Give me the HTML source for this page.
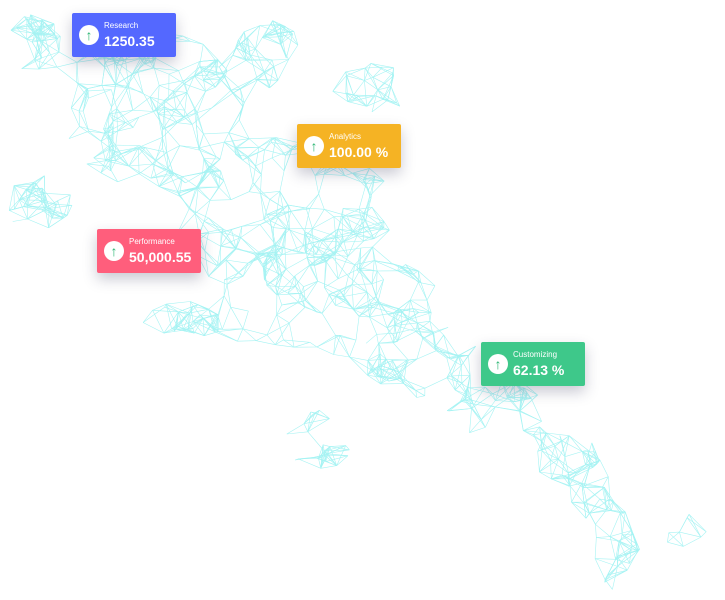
<!DOCTYPE html><html><head><style>
body{margin:0;width:725px;height:600px;background:#fff;overflow:hidden;position:relative;font-family:"Liberation Sans",sans-serif}
svg{position:absolute;left:0;top:0}
.c{position:absolute;width:104px;height:44px;color:#fff;box-shadow:0 6px 14px rgba(40,40,80,.25);border-radius:2px}
.c .i{position:absolute;left:7px;top:12px;width:20px;height:20px;border-radius:50%;background:#fff;color:#2bb673;font-size:14px;line-height:20px;text-align:center;font-weight:bold}
.c .l{position:absolute;left:32px;top:8px;font-size:8px}
.c .v{position:absolute;left:32px;top:20px;font-size:14px;font-weight:600}
</style></head><body>
<svg id="s" width="725" height="600"></svg>
<div class="c" style="left:72px;top:13px;background:#5468ff"><div class="i">↑</div><div class="l">Research</div><div class="v">1250.35</div></div>
<div class="c" style="left:297px;top:124px;background:#f5b324"><div class="i">↑</div><div class="l">Analytics</div><div class="v">100.00 %</div></div>
<div class="c" style="left:97px;top:229px;background:#ff5e7c"><div class="i">↑</div><div class="l">Performance</div><div class="v">50,000.55</div></div>
<div class="c" style="left:481px;top:342px;background:#3ec88a"><div class="i">↑</div><div class="l">Customizing</div><div class="v">62.13 %</div></div>
<script>
var E=[[150,110,95,80,160],[35,45,32,32,30],[40,205,35,30,30],[270,55,40,35,35],[370,90,40,30,25],[280,215,115,80,150],[320,300,125,60,120],[420,360,60,40,50],[500,410,55,32,35],[560,460,40,30,30],[600,500,30,25,20],[615,555,25,35,20],[320,440,35,35,25],[180,320,40,22,25],[680,530,30,20,8]];
var s=7;function r(){s=(s*16807)%2147483647;return s/2147483647}
var P=[];E.forEach(function(e){for(var k=0;k<e[4];k++){var a=r()*6.283,d=Math.sqrt(r());P.push([e[0]+Math.cos(a)*d*e[2],e[1]+Math.sin(a)*d*e[3]])}});
var h='';for(var i=0;i<P.length;i++){var n=0;for(var j=i+1;j<P.length;j++){var dx=P[i][0]-P[j][0],dy=P[i][1]-P[j][1];if(dx*dx+dy*dy<700&&n<4){n++;h+='<line x1="'+P[i][0].toFixed(1)+'" y1="'+P[i][1].toFixed(1)+'" x2="'+P[j][0].toFixed(1)+'" y2="'+P[j][1].toFixed(1)+'"/>'}}}
document.getElementById('s').innerHTML='<g stroke="#a6f3f3" stroke-width="0.6" fill="none">'+h+'</g>';
</script>
</body></html>
